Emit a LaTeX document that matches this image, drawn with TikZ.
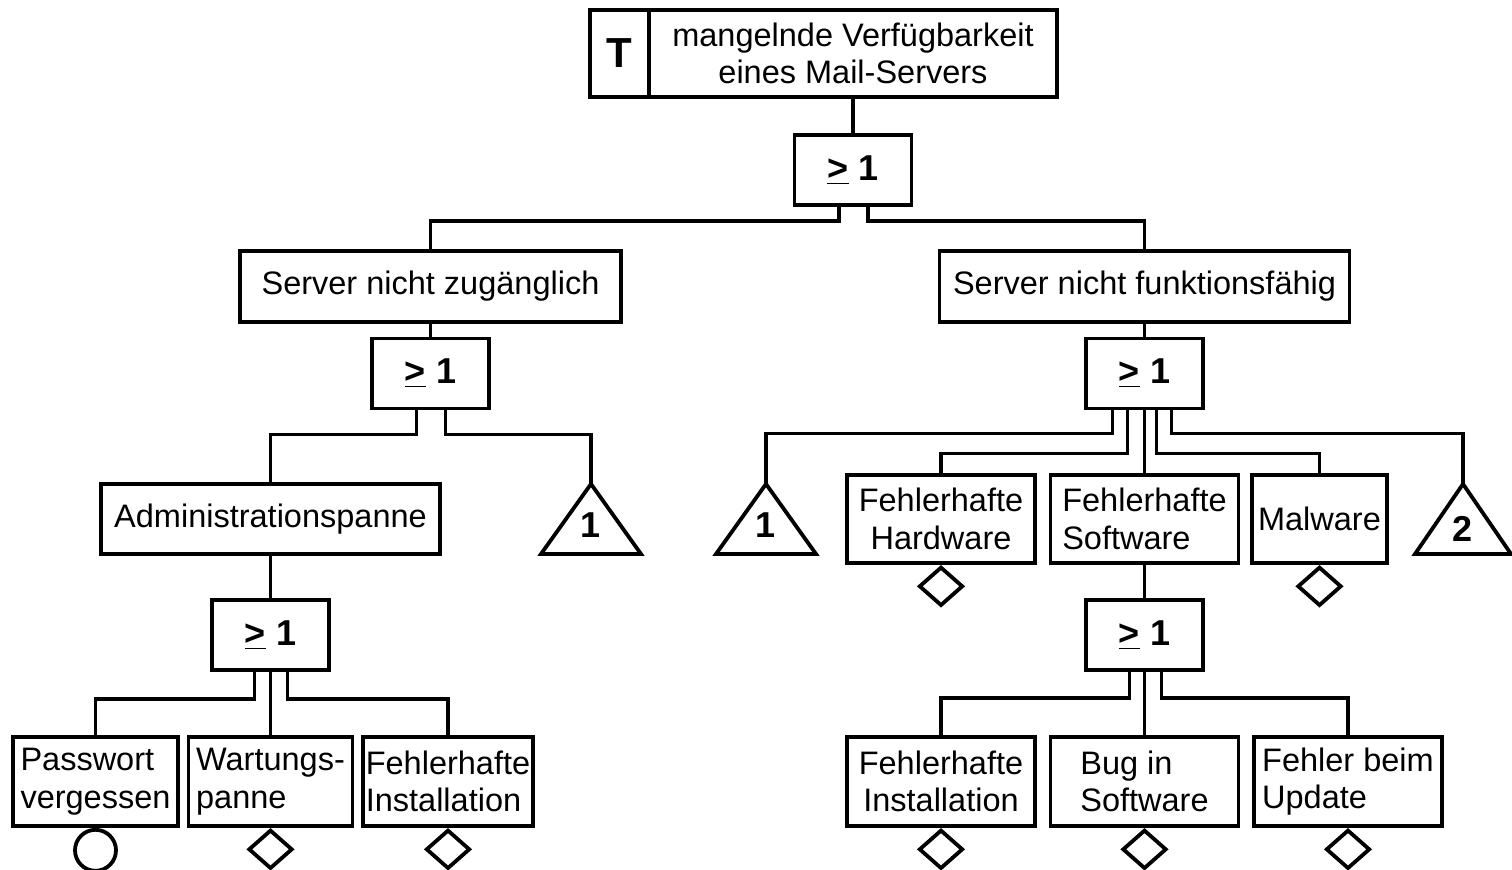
\documentclass[tikz,border=0pt]{standalone}
\usepackage{fontspec}
\setmainfont{Liberation Sans}
\usetikzlibrary{calc,shapes.geometric}
\begin{document}
\begin{tikzpicture}[x=0.5pt,y=-0.5pt, line width=1.9pt,
  box/.style={draw, rectangle, inner sep=0pt, font=\fontsize{16.25}{18.75}\selectfont},
  gate/.style={draw, rectangle, inner sep=0pt, minimum width=58.5pt, minimum height=35pt, font=\fontsize{18}{20}\selectfont\bfseries},
  num/.style={inner sep=0pt, font=\fontsize{18}{20}\selectfont\bfseries},
  dia/.style={draw, diamond, inner sep=0pt, minimum width=22pt, minimum height=19.5pt, anchor=north},
  bas/.style={draw, circle, inner sep=0pt, minimum size=20.5pt, anchor=north}]
\useasboundingbox (0,0) rectangle (1512,869);

% top event
\node[box, minimum width=29.5pt, minimum height=43.5pt, font=\fontsize{21}{23}\selectfont\bfseries] (tT) at (619.5,53.5) {T};
\node[box, align=center, minimum width=204pt, minimum height=43.5pt] (top) at (853,53.5) {mangelnde Verfügbarkeit\\eines Mail-Servers};
\node[gate] (g0) at (853,170) {\underline{>} 1};

% level 1
\node[box, minimum width=190.5pt, minimum height=35.5pt] (szug) at (430.5,286.5) {Server nicht zugänglich};
\node[box, minimum width=205pt, minimum height=35.5pt] (sfun) at (1144.5,286.5) {Server nicht funktionsfähig};
\node[gate] (g1) at (430.5,373.5) {\underline{>} 1};
\node[gate] (g2) at (1144.5,373.5) {\underline{>} 1};

% level 2 left
\node[box, minimum width=169.5pt, minimum height=35pt] (admin) at (270.5,519) {Administrationspanne};
\coordinate (t1) at (591,484);
\draw (t1) -- ++(50,70) -- ++(-100,0) -- cycle;
\node[num] (t1n) at (591,525) {1};

% level 2 right
\coordinate (t2) at (766,484);
\draw (t2) -- ++(50,70) -- ++(-100,0) -- cycle;
\node[num] (t2n) at (766,525) {1};
\node[box, align=center, minimum width=94pt, minimum height=44pt] (hw) at (941,519) {Fehlerhafte\\Hardware};
\node[box, align=left, minimum width=94pt, minimum height=44pt] (sw) at (1144.5,519) {Fehlerhafte\\Software};
\node[box, minimum width=67.5pt, minimum height=44pt] (mal) at (1319.5,519) {Malware};
\coordinate (t3) at (1463,484);
\draw (t3) -- ++(48,70) -- ++(-96,0) -- cycle;
\node[num] (t3n) at (1463,529) {2};
\node[dia] (dhw) at (hw.south) {};
\node[dia] (dmal) at (mal.south) {};

% gates level 3
\node[gate] (g3) at (270.5,635) {\underline{>} 1};
\node[gate] (g4) at (1144.5,635) {\underline{>} 1};

% bottom left
\node[box, align=left, minimum width=82.5pt, minimum height=44.5pt] (pw) at (95.5,781.5) {Passwort\\vergessen};
\node[box, align=left, minimum width=82pt, minimum height=44.5pt] (wart) at (270.5,781.5) {Wartungs-\\panne};
\node[box, align=left, minimum width=85pt, minimum height=44.5pt] (fil) at (448,781.5) {Fehlerhafte\\Installation};
\node[bas] (cpw) at (pw.south) {};
\node[dia] (dwart) at (wart.south) {};
\node[dia] (dfil) at (fil.south) {};

% bottom right
\node[box, align=center, minimum width=94pt, minimum height=44.5pt] (fir) at (941,781.5) {Fehlerhafte\\Installation};
\node[box, align=left, minimum width=94pt, minimum height=44.5pt] (bug) at (1144.5,781.5) {Bug in\\Software};
\node[box, align=left, minimum width=94pt, minimum height=44.5pt] (upd) at (1348,781.5) {Fehler beim\\Update};
\node[dia] (dfir) at (fir.south) {};
\node[dia] (dbug) at (bug.south) {};
\node[dia] (dupd) at (upd.south) {};

% connectors
\draw (top.south) -- (g0.north);
\draw ($(g0.south)+(-14,0)$) -- ++(0,14) -| (szug.north);
\draw ($(g0.south)+(15,0)$) -- ++(0,14) -| (sfun.north);
\draw (szug.south) -- (g1.north);
\draw (sfun.south) -- (g2.north);

\draw ($(g1.south)+(-14,0)$) -- ++(0,24) -| (admin.north);
\draw ($(g1.south)+(15,0)$) -- ++(0,24) -| (t1);

\draw ($(g2.south)+(-32,0)$) -- ++(0,23) -| (t2);
\draw ($(g2.south)+(-17,0)$) -- ++(0,43) -| (hw.north);
\draw (g2.south) -- (sw.north);
\draw ($(g2.south)+(12,0)$) -- ++(0,43) -| (mal.north);
\draw ($(g2.south)+(27,0)$) -- ++(0,23) -| (t3);

\draw (admin.south) -- (g3.north);
\draw (sw.south) -- (g4.north);

\draw ($(g3.south)+(-16,0)$) -- ++(0,27) -| (pw.north);
\draw (g3.south) -- (wart.north);
\draw ($(g3.south)+(17,0)$) -- ++(0,27) -| (fil.north);

\draw ($(g4.south)+(-15,0)$) -- ++(0,26) -| (fir.north);
\draw (g4.south) -- (bug.north);
\draw ($(g4.south)+(17,0)$) -- ++(0,26) -| (upd.north);
\end{tikzpicture}
\end{document}
